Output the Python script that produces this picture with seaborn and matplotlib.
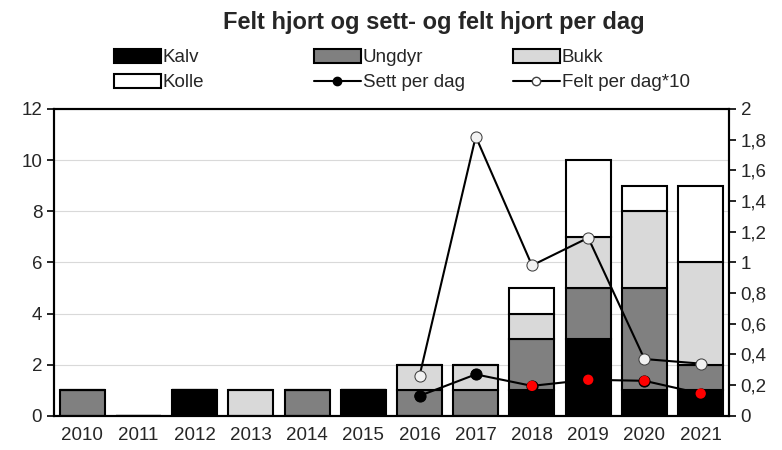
import matplotlib
matplotlib.use("Agg")
import matplotlib.pyplot as plt
import seaborn as sns
import pandas as pd
import numpy as np
from matplotlib.patches import Patch
from matplotlib.lines import Line2D

years = ['2010', '2011', '2012', '2013', '2014', '2015', '2016', '2017', '2018', '2019', '2020', '2021']
kalv = [0, 0, 1, 0, 0, 1, 0, 0, 1, 3, 1, 1]
ungdyr = [1, 0, 0, 0, 1, 0, 1, 1, 2, 2, 4, 1]
bukk = [0, 0, 0, 1, 0, 0, 1, 1, 1, 2, 3, 4]
kolle = [0, 0, 0, 0, 0, 0, 0, 0, 1, 3, 1, 3]

line_years = ['2016', '2017', '2018', '2019', '2020', '2021']
sett_per_dag = [0.13, 0.27, 0.195, 0.235, 0.228, 0.145]
felt_per_dag10 = [0.26, 1.82, 0.98, 1.16, 0.37, 0.34]
sett_marker_col = ['black', 'black', 'red', 'red', 'red', 'red']

series = [('Kalv', kalv, '#000000'), ('Ungdyr', ungdyr, '#808080'),
          ('Bukk', bukk, '#d9d9d9'), ('Kolle', kolle, '#ffffff')]

sns.set_theme(style="white")
plt.rcParams['font.family'] = ['Liberation Sans', 'DejaVu Sans']

FS = 13.5

fig = plt.figure(figsize=(7.82, 4.5), dpi=100)
ax = fig.add_axes([0.069, 0.076, 0.863, 0.682])

df = pd.DataFrame({'year': years, 'Kalv': kalv, 'Ungdyr': ungdyr, 'Bukk': bukk, 'Kolle': kolle})
bottom = np.zeros(len(years))
for name, vals, col in series:
    sns.barplot(data=df, x='year', y=name, order=years, color=col, saturation=1,
                width=0.8, edgecolor='black', linewidth=1.5, bottom=bottom, ax=ax, zorder=2)
    bottom = bottom + np.array(vals)

ax.set_ylim(0, 12)
ax.set_yticks(range(0, 13, 2))
ax.set_xlim(-0.5, len(years) - 0.5)
ax.yaxis.grid(True, color='#d9d9d9', linewidth=0.8, zorder=0)
ax.set_axisbelow(True)
ax.set_xlabel('')
ax.set_ylabel('')
ax.tick_params(axis='x', length=0, labelsize=FS, pad=8)
ax.set_xticks(np.arange(len(years) + 1) - 0.5, minor=True)
ax.tick_params(axis='x', which='minor', length=6, width=1.2, color='black', direction='out')
ax.tick_params(axis='y', labelsize=FS, length=5, width=1.2, color='black', direction='out', left=True)
for s in ax.spines.values():
    s.set_color('black')
    s.set_linewidth(1.5)

ax2 = ax.twinx()
pos = [years.index(y) for y in line_years]
lines = pd.DataFrame({'pos': pos, 'sett': sett_per_dag, 'felt': felt_per_dag10})
sns.lineplot(data=lines, x='pos', y='felt', color='black', linewidth=1.5, marker='o',
             markersize=8, markerfacecolor='#f2f2f2', markeredgecolor='#404040', ax=ax2)
sns.lineplot(data=lines, x='pos', y='sett', color='black', linewidth=1.5, marker='o',
             markersize=8, markerfacecolor='black', markeredgecolor='black', ax=ax2)
ax2.scatter(pos, sett_per_dag, c=sett_marker_col, s=55, zorder=5, edgecolors='none')
ax2.set_ylim(0, 2)
rticks = np.round(np.arange(0, 2.01, 0.2), 1)
ax2.set_yticks(rticks)
ax2.set_yticklabels([f'{v:g}'.replace('.', ',') for v in rticks])
ax2.tick_params(axis='y', labelsize=FS, length=5, width=1.2, color='black', direction='out', right=True)
ax2.set_ylabel('')
ax2.set_xlabel('')
ax2.set_xlim(-0.5, len(years) - 0.5)
for s in ax2.spines.values():
    s.set_color('black')
    s.set_linewidth(1.5)

fig.text(0.555, 0.949, 'Felt hjort og sett- og felt hjort per dag', ha='center', va='center',
         fontsize=17, fontweight='bold')

def bar_handle(col):
    return Patch(facecolor=col, edgecolor='black', linewidth=1.5)

h_kalv = bar_handle('#000000')
h_ung = bar_handle('#808080')
h_bukk = bar_handle('#d9d9d9')
h_kolle = bar_handle('#ffffff')
h_sett = Line2D([], [], color='black', linewidth=1.5, marker='o', markersize=6, markerfacecolor='black')
h_felt = Line2D([], [], color='black', linewidth=1.5, marker='o', markersize=6,
                markerfacecolor='white', markeredgecolor='#404040')

legend_cols = [([h_kalv, h_kolle], ['Kalv', 'Kolle'], 114),
               ([h_ung, h_sett], ['Ungdyr', 'Sett per dag'], 314),
               ([h_bukk, h_felt], ['Bukk', 'Felt per dag*10'], 513)]
for handles, labels, xpx in legend_cols:
    leg = fig.legend(handles, labels, loc='upper left', bbox_to_anchor=(xpx / 782, 1 - 49 / 450),
                     frameon=False, fontsize=FS, handlelength=2.5, handleheight=0.75,
                     handletextpad=0.1, labelspacing=0.4, borderaxespad=0, borderpad=0)

fig.savefig('out.png', dpi=100)
